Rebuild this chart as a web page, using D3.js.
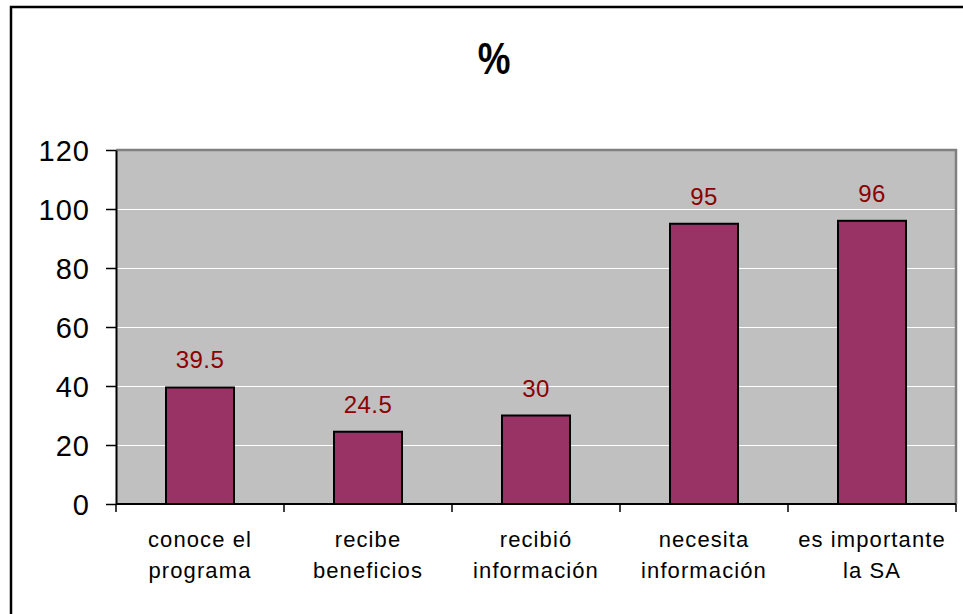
<!DOCTYPE html>
<html>
<head>
<meta charset="utf-8">
<script src="https://cdn.jsdelivr.net/npm/d3@7"></script>
<style>
  html, body { margin: 0; padding: 0; background: #ffffff; }
  svg { display: block; }
  text { font-family: "Liberation Sans", Arial, sans-serif; }
</style>
</head>
<body>
<svg id="chart" width="963" height="614"></svg>
<script>
// Survey answers (percent of respondents)
const categories = [
  "conoce el\nprograma",
  "recibe\nbeneficios",
  "recibió\ninformación",
  "necesita\ninformación",
  "es importante\nla SA"
];
const values = [39.5, 24.5, 30, 95, 96];
const yTicks = [0, 20, 40, 60, 80, 100, 120];
const title = "%";

const svg = d3.select("#chart");
const plot = { left: 116, right: 956, top: 150, bottom: 504 };

// outer chart frame (runs off the right and bottom edges)
svg.append("rect")
  .attr("x", 11).attr("y", 7)
  .attr("width", 980).attr("height", 640)
  .attr("fill", "#ffffff")
  .attr("stroke", "#000000").attr("stroke-width", 2.5);

svg.append("text")
  .attr("x", 494).attr("y", 74)
  .attr("text-anchor", "middle")
  .attr("font-size", 40)
  .attr("font-weight", "bold")
  .attr("transform", "translate(494,74) scale(0.92,1.1) translate(-494,-74)")
  .attr("fill", "#000")
  .text(title);

const x = d3.scaleBand().domain(categories).range([plot.left, plot.right]).padding(0);
const y = d3.scaleLinear().domain([0, 120]).range([plot.bottom, plot.top]);

// plot area background
svg.append("rect")
  .attr("x", plot.left).attr("y", plot.top)
  .attr("width", plot.right - plot.left).attr("height", plot.bottom - plot.top)
  .attr("fill", "#c0c0c0");

// gridlines
svg.append("g").selectAll("line")
  .data(yTicks.filter(d => d > 0 && d < 120))
  .join("line")
  .attr("x1", plot.left).attr("x2", plot.right)
  .attr("y1", d => Math.round(y(d)) + 0.5).attr("y2", d => Math.round(y(d)) + 0.5)
  .attr("stroke", "#ffffff").attr("stroke-width", 1);

// top and right plot border
svg.append("path")
  .attr("d", `M${plot.left},${plot.top}H${plot.right}V${plot.bottom}`)
  .attr("fill", "none").attr("stroke", "#808080").attr("stroke-width", 2.5);

// bars
const barW = x.bandwidth() * 68 / 168;
svg.append("g").selectAll("rect")
  .data(values)
  .join("rect")
  .attr("x", (d, i) => x(categories[i]) + (x.bandwidth() - barW) / 2)
  .attr("y", d => y(d))
  .attr("width", barW)
  .attr("height", d => y(0) - y(d))
  .attr("fill", "#993366")
  .attr("stroke", "#000000").attr("stroke-width", 2);

// value labels
svg.append("g").selectAll("text")
  .data(values)
  .join("text")
  .attr("x", (d, i) => x(categories[i]) + x.bandwidth() / 2)
  .attr("y", d => y(d) - 19)
  .attr("text-anchor", "middle")
  .attr("font-size", 24)
  .attr("letter-spacing", 0.4)
  .attr("fill", "#8b0000")
  .text(d => d);

// y axis
const yAxis = svg.append("g")
  .attr("transform", `translate(${plot.left},0)`)
  .call(d3.axisLeft(y).tickValues(yTicks).tickSize(10).tickSizeOuter(0).tickPadding(16));
yAxis.select(".domain").attr("stroke", "#000").attr("stroke-width", 2);
yAxis.selectAll(".tick line").attr("stroke", "#000").attr("stroke-width", 1.5);
yAxis.selectAll(".tick text")
  .attr("font-size", 29)
  .attr("letter-spacing", 1)
  .attr("font-family", "'Liberation Sans', Arial, sans-serif")
  .attr("fill", "#000")
  .attr("dy", "0.35em");

// x axis with ticks at category boundaries
const xAxisG = svg.append("g");
xAxisG.append("line")
  .attr("x1", plot.left).attr("x2", plot.right)
  .attr("y1", plot.bottom).attr("y2", plot.bottom)
  .attr("stroke", "#000").attr("stroke-width", 2);
const bounds = categories.map(c => x(c)).concat([plot.right]);
xAxisG.selectAll("line.tk")
  .data(bounds)
  .join("line").attr("class", "tk")
  .attr("x1", d => d).attr("x2", d => d)
  .attr("y1", plot.bottom).attr("y2", plot.bottom + 8)
  .attr("stroke", "#000").attr("stroke-width", 1.5);

// category labels, two lines each
const catLabels = xAxisG.selectAll("text.cat")
  .data(categories)
  .join("text").attr("class", "cat")
  .attr("text-anchor", "middle")
  .attr("font-size", 22)
  .attr("letter-spacing", 1.1)
  .attr("fill", "#000");
catLabels.each(function(c) {
  const t = d3.select(this);
  const cx = x(c) + x.bandwidth() / 2;
  c.split("\n").forEach((line, j) => {
    t.append("tspan").attr("x", cx).attr("y", 547 + j * 31).text(line);
  });
});
</script>
</body>
</html>
